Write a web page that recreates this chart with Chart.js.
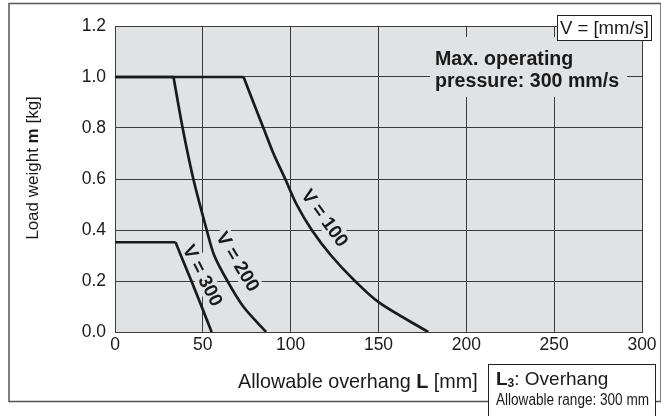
<!DOCTYPE html>
<html lang="en">
<head>
<meta charset="UTF-8">
<title>Load weight vs allowable overhang</title>
<style>
  body { margin: 0; background: #fff; }
  canvas { display: block; }
</style>
</head>
<body>
<canvas id="chart" width="661" height="416"></canvas>
<script src="https://cdn.jsdelivr.net/npm/chart.js"></script>
<script>
// values: overhang L [mm] vs load weight m [kg]
const xTicks = [0, 50, 100, 150, 200, 250, 300];
const yTicks = [0.0, 0.2, 0.4, 0.6, 0.8, 1.0, 1.2];

const v100L = [73.2, 78.8, 84.5, 90.2, 96.9, 103.4, 112, 123, 136.6, 150.4, 178.3];
const v100M = [1.0, 0.9, 0.8, 0.7, 0.6, 0.5, 0.4, 0.3, 0.2, 0.115, 0.0];

const v200L = [33.3, 38.5, 44.6, 52.2, 56.5, 64, 73, 86];
const v200M = [1.0, 0.8, 0.6, 0.4, 0.3, 0.2, 0.1, 0.0];

const v300L = [34.5, 37.5, 43.5, 49.3, 55];
const v300M = [0.352, 0.3, 0.2, 0.1, 0.0];

const curveNames = ['V = 100', 'V = 200', 'V = 300'];

const PLOT_BG = '#e1e2e4';
const GRID = '#3c3c3c';
const INK = '#1a1a1a';
const FONT = '"Liberation Sans", Arial, sans-serif';

function pts(L, M) { return L.map((x, i) => ({ x: x, y: M[i] })); }
function flat(L, M) { return [{ x: 0, y: M[0] }, { x: L[0], y: M[0] }]; }

function lineSet(label, data, curved) {
    return {
        label: label, data: data, borderColor: INK, borderWidth: 2.7,
        pointRadius: 0, fill: false, tension: curved ? 0.3 : 0
    };
}

// curve labels: position in data units, rotation in degrees
const curveLabels = [
    { text: curveNames[0], x: 119.5, y: 0.447, rot: 54 },
    { text: curveNames[1], x: 70, y: 0.276, rot: 59 },
    { text: curveNames[2], x: 50, y: 0.222, rot: 63 }
];

function drawRuns(ctx, runs, x, y) {
    let cx = x;
    runs.forEach(r => {
        ctx.font = (r.bold ? 'bold ' : '') + r.size + 'px ' + FONT;
        ctx.fillText(r.t, cx, y + (r.dy || 0));
        cx += ctx.measureText(r.t).width;
    });
    return cx - x;
}
function runsWidth(ctx, runs) {
    let w = 0;
    runs.forEach(r => {
        ctx.font = (r.bold ? 'bold ' : '') + r.size + 'px ' + FONT;
        w += ctx.measureText(r.t).width;
    });
    return w;
}

const decor = {
    id: 'decor',
    beforeDraw(chart) {
        const { ctx, chartArea: a } = chart;
        ctx.save();
        ctx.fillStyle = PLOT_BG;
        ctx.fillRect(a.left, a.top, a.right - a.left, a.bottom - a.top);
        ctx.restore();
    },
    beforeDatasetsDraw(chart) {
        const { ctx } = chart;
        const xs = chart.scales.x, ys = chart.scales.y;
        ctx.save();
        // note box
        ctx.fillStyle = PLOT_BG;
        ctx.fillRect(430, 37, 197, 60);
        ctx.fillStyle = INK;
        ctx.textBaseline = 'alphabetic';
        ctx.font = 'bold 19.6px ' + FONT;
        ctx.fillText('Max. operating', 435, 65);
        ctx.fillText('pressure: 300 mm/s', 435, 87);

        // curve labels
        ctx.font = 'bold 19px ' + FONT;
        ctx.textAlign = 'center';
        ctx.textBaseline = 'middle';
        curveLabels.forEach(l => {
            const px = xs.getPixelForValue(l.x), py = ys.getPixelForValue(l.y);
            ctx.save();
            ctx.translate(px, py);
            ctx.rotate(l.rot * Math.PI / 180);
            const w = ctx.measureText(l.text).width;
            ctx.fillStyle = PLOT_BG;
            ctx.fillRect(-w / 2 - 3, -10, w + 6, 20);
            ctx.fillStyle = INK;
            ctx.fillText(l.text, 0, 1);
            ctx.restore();
        });
        ctx.restore();
    },
    afterDraw(chart) {
        const { ctx } = chart;
        ctx.save();
        ctx.fillStyle = INK;
        ctx.textBaseline = 'alphabetic';

        // outer frame
        ctx.strokeStyle = '#555';
        ctx.lineWidth = 1.5;
        ctx.strokeRect(9, 3.5, 652, 398);

        // axis titles
        drawRuns(ctx, [
            { t: 'Allowable overhang ', size: 19.8 },
            { t: 'L', size: 19.8, bold: true },
            { t: ' [mm]', size: 19.8 }
        ], 238, 388);

        const yRuns = [
            { t: 'Load weight ', size: 17 },
            { t: 'm', size: 17, bold: true },
            { t: ' [kg]', size: 17 }
        ];
        ctx.save();
        ctx.translate(38, 168);
        ctx.rotate(-Math.PI / 2);
        drawRuns(ctx, yRuns, -runsWidth(ctx, yRuns) / 2, 0);
        ctx.restore();

        // unit box
        ctx.fillStyle = '#fff';
        ctx.fillRect(557, 15, 94, 25);
        ctx.strokeStyle = '#222';
        ctx.lineWidth = 1;
        ctx.strokeRect(557.5, 15.5, 94, 25);
        ctx.fillStyle = INK;
        ctx.font = '18.5px ' + FONT;
        ctx.fillText('V = [mm/s]', 560, 34);

        // overhang box
        ctx.fillStyle = '#fff';
        ctx.fillRect(488, 364, 167, 60);
        ctx.strokeRect(488.5, 364.5, 167, 60);
        ctx.fillStyle = INK;
        drawRuns(ctx, [
            { t: 'L', size: 19, bold: true },
            { t: '3', size: 12, bold: true, dy: 2 },
            { t: ': Overhang', size: 19 }
        ], 496, 385);
        ctx.font = '16px ' + FONT;
        ctx.fillText('Allowable range: 300 mm', 496, 405, 153);
        ctx.restore();
    }
};

new Chart(document.getElementById('chart'), {
    type: 'line',
    data: {
        datasets: [
            lineSet(curveNames[0], flat(v100L, v100M), false),
            lineSet(curveNames[0], pts(v100L, v100M), true),
            lineSet(curveNames[1], flat(v200L, v200M), false),
            lineSet(curveNames[1], pts(v200L, v200M), true),
            lineSet(curveNames[2], flat(v300L, v300M), false),
            lineSet(curveNames[2], pts(v300L, v300M), true)
        ]
    },
    options: {
        responsive: false,
        animation: false,
        devicePixelRatio: 1,
        layout: { padding: { top: 26, right: 19, left: 0, bottom: 0 } },
        plugins: { legend: { display: false }, tooltip: { enabled: false } },
        scales: {
            x: {
                type: 'linear', min: xTicks[0], max: xTicks[xTicks.length - 1],
                afterBuildTicks: s => { s.ticks = xTicks.map(v => ({ value: v })); },
                afterFit: s => { s.height = 84; },
                ticks: { color: INK, font: { family: FONT, size: 17.5 }, padding: 3, maxRotation: 0 },
                grid: { color: GRID, lineWidth: 1, drawTicks: false },
                border: { color: GRID, width: 1 }
            },
            y: {
                type: 'linear', min: yTicks[0], max: yTicks[yTicks.length - 1],
                afterBuildTicks: s => { s.ticks = yTicks.map(v => ({ value: v })); },
                afterFit: s => { s.width = 115; },
                ticks: { color: INK, font: { family: FONT, size: 17.5 }, padding: 9,
                         callback: v => v.toFixed(1) },
                grid: { color: GRID, lineWidth: 1, drawTicks: false },
                border: { color: GRID, width: 1 }
            }
        }
    },
    plugins: [decor]
});
</script>
</body>
</html>
